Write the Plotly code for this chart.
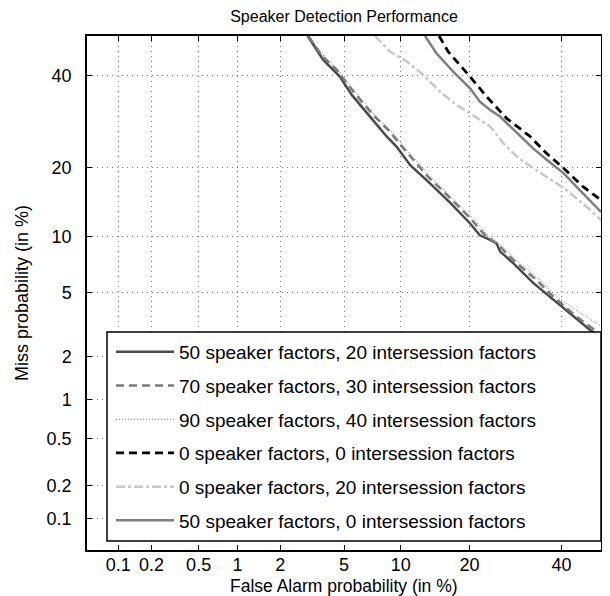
import plotly.graph_objects as go
from statistics import NormalDist

# ---- data (percent) ----
tick_vals_pct = [0.1, 0.2, 0.5, 1, 2, 5, 10, 20, 40]
tick_text = ["0.1", "0.2", "0.5", "1", "2", "5", "10", "20", "40"]
axis_limits_pct = [0.05, 50]

names = [
    "50 speaker factors, 20 intersession factors",
    "70 speaker factors, 30 intersession factors",
    "90 speaker factors, 40 intersession factors",
    "0 speaker factors, 0 intersession factors",
    "0 speaker factors, 20 intersession factors",
    "50 speaker factors, 0 intersession factors",
]

fa_50_20 = [3.02, 3.77, 4.74, 5.53, 6.96, 8.5, 9.55, 11.1, 13.2, 16.7, 20.1, 21.9, 23.9, 25.2, 25.9, 28.7, 33.2, 37.2, 43.0, 47.2, 50.0]
miss_50_20 = [50.0, 43.9, 39.7, 35.3, 30.3, 26.0, 23.9, 20.4, 17.8, 14.3, 11.5, 10.1, 9.6, 9.2, 8.4, 7.3, 5.7, 4.76, 3.62, 2.99, 2.7]

fa_70_30 = [3.05, 3.70, 4.53, 5.64, 7.25, 8.84, 10.3, 12.3, 13.4, 16.7, 20.1, 22.6, 25.9, 29.5, 34.0, 38.0, 43.6, 47.7, 50.0]
miss_70_30 = [50.0, 44.9, 41.4, 36.1, 30.6, 27.0, 23.6, 20.1, 18.4, 15.0, 12.2, 10.3, 8.87, 7.28, 5.91, 4.76, 3.65, 3.08, 2.78]

fa_90_40 = [3.08, 3.81, 4.61, 5.77, 7.40, 9.05, 10.5, 12.6, 13.8, 17.0, 20.6, 23.1, 26.5, 30.2, 34.8, 38.9, 44.7, 50.0]
miss_90_40 = [50.0, 44.9, 41.4, 36.1, 30.6, 27.0, 23.6, 20.1, 18.4, 15.0, 12.2, 10.3, 8.87, 7.28, 5.91, 4.76, 3.81, 3.17]

fa_0_0 = [15.0, 16.4, 20.1, 23.2, 27.3, 32.5, 36.4, 40.5, 45.5, 50.0]
miss_0_0 = [50.0, 46.0, 39.7, 34.9, 29.9, 26.0, 22.6, 19.9, 16.7, 14.7]

fa_0_20 = [7.40, 8.84, 10.7, 12.8, 15.1, 17.8, 20.1, 23.9, 26.6, 29.5, 33.2, 36.4, 41.3, 47.2, 50.0]
miss_0_20 = [50.0, 46.0, 43.5, 40.1, 36.1, 32.9, 31.0, 28.1, 24.6, 22.0, 19.9, 18.4, 16.2, 13.3, 11.9]

fa_50_0 = [13.0, 14.6, 17.2, 20.1, 21.9, 23.9, 25.9, 29.5, 33.2, 36.4, 40.5, 43.8, 50.0]
miss_50_0 = [50.0, 45.6, 41.0, 36.9, 33.7, 31.8, 30.3, 26.7, 23.6, 21.4, 19.0, 16.7, 13.0]

series = [
    (fa_50_20, miss_50_20),
    (fa_70_30, miss_70_30),
    (fa_90_40, miss_90_40),
    (fa_0_0, miss_0_0),
    (fa_0_20, miss_0_20),
    (fa_50_0, miss_50_0),
]
styles = [
    dict(color="#4a4a4a", width=2.5, dash="solid"),
    dict(color="#7a7a7a", width=2.5, dash="8px,5px"),
    dict(color="#6a6a6a", width=1, dash="1px,2px"),
    dict(color="#000000", width=2.8, dash="8px,5px"),
    dict(color="#c8c8c8", width=2.5, dash="dashdot"),
    dict(color="#7f7f7f", width=2.5, dash="solid"),
]

nd = NormalDist()


def probit(pct_list):
    return [nd.inv_cdf(min(max(p, 1e-6), 99.9999) / 100.0) for p in pct_list]


FONT = "Liberation Sans, Arial, sans-serif"

fig = go.Figure()
for i, ((fa, miss), name, st) in enumerate(zip(series, names, styles)):
    fig.add_trace(go.Scatter(
        x=probit(fa), y=probit(miss), mode="lines", name=name,
        line=st, legendgroup="g%d" % i,
    ))

rng = probit(axis_limits_pct)
tv = probit(tick_vals_pct)
axis_common = dict(
    range=rng, tickmode="array", tickvals=tv, ticktext=tick_text,
    showgrid=True, gridcolor="#777777", griddash="1px,4px", gridwidth=1,
    showline=True, linecolor="black", linewidth=1.5, mirror="ticks",
    ticks="inside", ticklen=5, tickcolor="black", tickwidth=1,
    zeroline=False, tickfont=dict(family=FONT, size=18, color="black"),
    automargin=False,
)

fig.update_xaxes(**axis_common, ticklabelstandoff=-2)
fig.update_yaxes(**axis_common, ticklabelstandoff=10)

# page body adds an 8px offset; size the figure so it fits the window
OFF = 8
W, H = 610 - OFF, 596 - OFF
L, R, T, B = 87 - OFF, 9, 36 - OFF, 46
pw, ph = W - L - R, H - T - B


def px_x(sx):
    return (sx - OFF - L) / pw


def px_y(sy):
    return (H - B - (sy - OFF)) / ph


# legend frame (the legend itself is drawn transparent on top of it)
fig.add_shape(type="rect", xref="paper", yref="paper",
              x0=px_x(107), x1=px_x(601), y0=px_y(541), y1=px_y(332),
              fillcolor="white", line=dict(color="black", width=1.5), layer="above")

fig.add_annotation(text="False Alarm probability (in %)", xref="paper", yref="paper",
                   x=0.5, y=px_y(586), xanchor="center", yanchor="middle", showarrow=False,
                   font=dict(family=FONT, size=17.5, color="black"))
fig.add_annotation(text="Miss probability (in %)", xref="paper", yref="paper",
                   x=px_x(22), y=0.5, xanchor="center", yanchor="middle", showarrow=False,
                   textangle=-90, font=dict(family=FONT, size=18, color="black"))

fig.update_layout(
    width=W, height=H,
    margin=dict(l=L, r=R, t=T, b=B),
    paper_bgcolor="white", plot_bgcolor="white",
    title=dict(text="Speaker Detection Performance", x=(344 - OFF) / W, xanchor="center",
               y=1 - 8 / H, yanchor="middle", font=dict(family=FONT, size=16, color="black")),
    legend=dict(
        x=px_x(111), xanchor="left", y=px_y(333), yanchor="top",
        bgcolor="rgba(0,0,0,0)", borderwidth=0,
        font=dict(family=FONT, size=19, color="black"),
        itemwidth=58, tracegroupgap=6, traceorder="grouped",
    ),
    showlegend=True,
)

fig.write_html("out.html")
